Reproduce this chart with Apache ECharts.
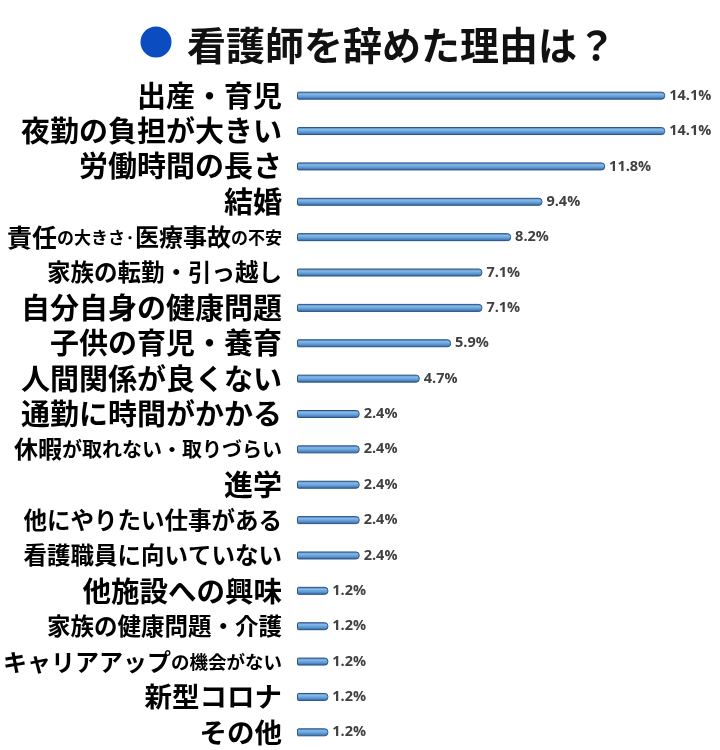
<!DOCTYPE html>
<html>
<head>
<meta charset="utf-8">
<script src="https://cdn.jsdelivr.net/npm/echarts@6/dist/echarts.min.js"></script>
<style>
html,body{margin:0;padding:0;background:#fff;}
#c{width:720px;height:750px;}
</style>
</head>
<body>
<div id="c"></div>
<script>
// ---- data ----
var titleText = '看護師を辞めた理由は？';
var categories = [
  '出産・育児',
  '夜勤の負担が大きい',
  '労働時間の長さ',
  '結婚',
  '責任の大きさ·医療事故の不安',
  '家族の転勤・引っ越し',
  '自分自身の健康問題',
  '子供の育児・養育',
  '人間関係が良くない',
  '通勤に時間がかかる',
  '休暇が取れない・取りづらい',
  '進学',
  '他にやりたい仕事がある',
  '看護職員に向いていない',
  '他施設への興味',
  '家族の健康問題・介護',
  'キャリアアップの機会がない',
  '新型コロナ',
  'その他'
];
var values = [14.1, 14.1, 11.8, 9.4, 8.2, 7.1, 7.1, 5.9, 4.7, 2.4, 2.4, 2.4, 2.4, 2.4, 1.2, 1.2, 1.2, 1.2, 1.2];

// ---- label typography (style only) ----
var labelMarkup = {
  '責任の大きさ·医療事故の不安': '{r25|責任}{r17|の大きさ}{r17|·}{r24|医療事故}{r17|の不安}',
  '休暇が取れない・取りづらい': '{r24|休暇}{r20|が取れない・取りづらい}',
  'キャリアアップの機会がない': '{r24|キャリアアップ}{r185|の機会がない}'
};
var labelSize = {
  '家族の転勤・引っ越し': 'r235',
  '他にやりたい仕事がある': 'r235',
  '看護職員に向いていない': 'r235',
  '家族の健康問題・介護': 'r235',
  '新型コロナ': 'r275',
  'その他': 'r275',
  '他施設への興味': 'r285'
};
var FF = '"Noto Sans CJK JP", "Noto Sans CJK SC", sans-serif';
function rs(sz){ return {fontSize: sz, fontWeight: 'bold', color: '#000', fontFamily: FF}; }
var rich = {
  r17: rs(17), r185: rs(18.5), r20: rs(20), r235: rs(23.5), r24: rs(24), r25: rs(25),
  r275: rs(27.5), r285: rs(28.5), r29: rs(29)
};

var chart = echarts.init(document.getElementById('c'), null, {renderer: 'canvas'});
var barGrad = new echarts.graphic.LinearGradient(0, 0, 0, 1, [
  {offset: 0, color: '#4579b5'},
  {offset: 0.3, color: '#86b9e6'},
  {offset: 0.65, color: '#5b97d3'},
  {offset: 1, color: '#2f5d92'}
]);

chart.setOption({
  backgroundColor: '#fff',
  animation: false,
  title: {
    text: titleText,
    left: 182,
    top: 21,
    textStyle: {fontSize: 39, fontWeight: 'bold', color: '#111', fontFamily: FF}
  },
  graphic: [{
    type: 'circle',
    shape: {cx: 156, cy: 42, r: 15.5},
    style: {fill: '#0b4cc0'}
  }],
  grid: {left: 296, right: 0, top: 78, height: 674, containLabel: false},
  xAxis: {
    type: 'value', min: 0, max: 16.2,
    show: false
  },
  yAxis: {
    type: 'category',
    inverse: true,
    data: categories,
    axisLine: {show: false},
    axisTick: {show: false},
    axisLabel: {
      margin: 15,
      formatter: function (v) {
        if (labelMarkup[v]) return labelMarkup[v];
        return '{' + (labelSize[v] || 'r29') + '|' + v + '}';
      },
      rich: rich
    }
  },
  series: [{
    type: 'bar',
    data: values,
    barWidth: 8,
    itemStyle: {
      color: barGrad,
      borderColor: '#2b5487',
      borderWidth: 1,
      borderRadius: [1, 3, 3, 1]
    },
    label: {
      show: true,
      position: 'right',
      distance: 4,
      formatter: function (p) { return p.value.toFixed(1) + '%'; },
      fontSize: 14.5,
      fontWeight: 'bold',
      color: '#404040',
      fontFamily: '"Open Sans", sans-serif'
    }
  }]
});
</script>
</body>
</html>
